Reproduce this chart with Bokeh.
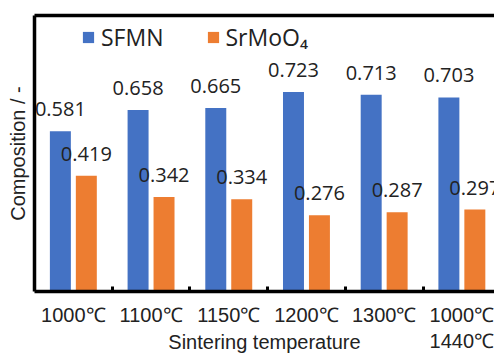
from bokeh.plotting import figure
from bokeh.models import (ColumnDataSource, Range1d, FixedTicker, LinearAxis,
                          Legend, LegendItem)
from bokeh.core.properties import value
from bokeh.embed import file_html
from bokeh.resources import INLINE

categories = ["1000℃", "1100℃", "1150℃", "1200℃", "1300℃", "1000℃\n1440℃"]
sfmn = [0.581, 0.658, 0.665, 0.723, 0.713, 0.703]
srmoo4 = [0.419, 0.342, 0.334, 0.276, 0.287, 0.297]
series_names = ["SFMN", "SrMoO₄"]
x_title = "Sintering temperature"
y_title = "Composition / -"

BLUE = "#4472C4"
ORANGE = "#ED7D31"
OFF = 0.167
BW = 0.27

centers = [i + 0.5 for i in range(len(categories))]
src = ColumnDataSource(dict(
    xb=[c - OFF for c in centers], xo=[c + OFF for c in centers],
    sfmn=sfmn, srmoo4=srmoo4,
    lb=[f"{v:.3f}" for v in sfmn], lo=[f"{v:.3f}" for v in srmoo4],
))

p = figure(width=494, height=355, output_backend="svg", toolbar_location=None,
           x_range=Range1d(0, 5.92), y_range=Range1d(0, 1.0),
           min_border_left=34, min_border_right=0, min_border_top=15,
           min_border_bottom=64, x_axis_location="below")
p.background_fill_color = "white"
p.border_fill_color = "white"
p.outline_line_color = None
p.xgrid.visible = False
p.ygrid.visible = False

rb = p.vbar(x="xb", top="sfmn", width=BW, source=src, color=BLUE, line_color=None)
ro = p.vbar(x="xo", top="srmoo4", width=BW, source=src, color=ORANGE, line_color=None)

for xcol, ycol, lcol in (("xb", "sfmn", "lb"), ("xo", "srmoo4", "lo")):
    p.text(x=xcol, y=ycol, text=lcol, source=src, text_align="center",
           text_baseline="alphabetic", y_offset=-22,
           text_font=value("Open Sans"), text_font_size="20px", text_color="#222222")

# x axis
xa = p.xaxis[0]
xa.ticker = FixedTicker(ticks=centers, minor_ticks=[1, 2, 3, 4, 5])
xa.major_label_overrides = {c: lab for c, lab in zip(centers, categories)}
xa.major_tick_line_color = None
xa.minor_tick_in = 5
xa.minor_tick_out = 0
xa.minor_tick_line_width = 3
xa.minor_tick_line_color = "black"
xa.axis_line_width = 3.5
xa.axis_line_color = "black"
xa.major_label_text_font = "Liberation Sans"
xa.major_label_text_font_size = "20px"
xa.major_label_text_color = "#222222"
xa.major_label_standoff = 6
xa.axis_label = x_title
xa.axis_label_text_font = "Liberation Sans"
xa.axis_label_text_font_size = "20px"
xa.axis_label_text_font_style = "normal"
xa.axis_label_text_color = "#222222"
xa.axis_label_standoff = -24

# y axis
ya = p.yaxis[0]
ya.ticker = FixedTicker(ticks=[])
ya.major_tick_line_color = None
ya.minor_tick_line_color = None
ya.major_label_text_font_size = "0px"
ya.axis_line_width = 3.5
ya.axis_line_color = "black"
ya.axis_label = y_title
ya.axis_label_text_font = "Liberation Sans"
ya.axis_label_text_font_size = "20px"
ya.axis_label_text_font_style = "normal"
ya.axis_label_text_color = "#222222"
ya.axis_label_standoff = 6

# top border line
ta = LinearAxis(ticker=FixedTicker(ticks=[]), major_label_text_font_size="0px",
                major_tick_line_color=None, minor_tick_line_color=None,
                axis_line_width=3.5, axis_line_color="black")
p.add_layout(ta, "above")

legend = Legend(items=[LegendItem(label=series_names[0], renderers=[rb]),
                       LegendItem(label=series_names[1], renderers=[ro])],
                orientation="horizontal", location=(47, 238),
                border_line_color=None, background_fill_alpha=0,
                glyph_width=14, glyph_height=14, label_standoff=6, spacing=42,
                padding=0, margin=0,
                label_text_font="Open Sans", label_text_font_size="23px",
                label_text_color="#222222")
p.add_layout(legend, "center")

open("out.html", "w").write(file_html(p, INLINE))
